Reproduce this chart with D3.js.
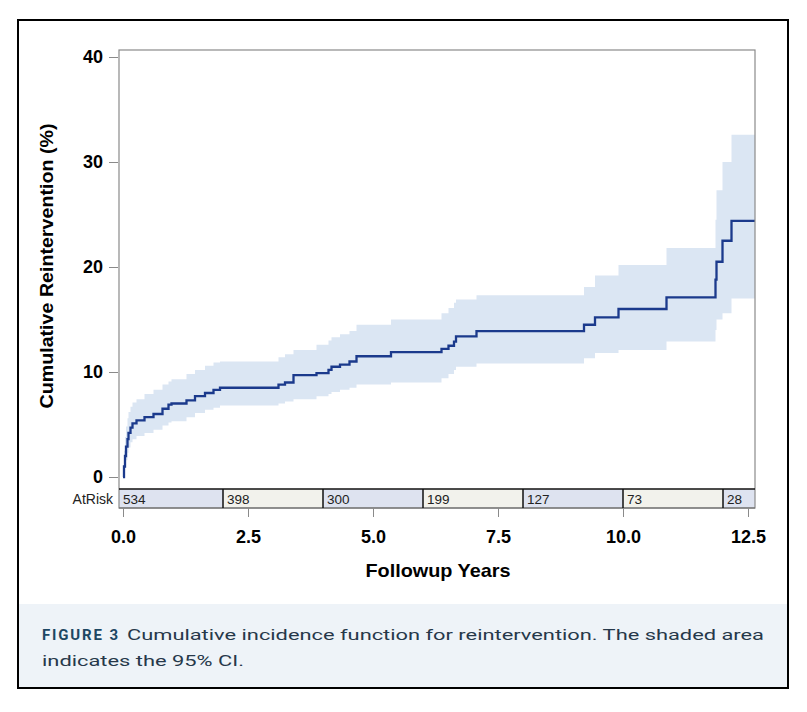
<!DOCTYPE html>
<html lang="en">
<head>
<meta charset="utf-8">
<title>Cumulative incidence of reintervention</title>
<script src="https://d3js.org/d3.v7.min.js"></script>
<style>
  body { margin: 0; background: #fff; }
  svg { display: block; }
  .axis text { font-family: "Liberation Sans", Arial, sans-serif; font-weight: bold; font-size: 18px; fill: #000; }
  .axis line { stroke: #8a8a8a; }
</style>
</head>
<body>
<svg id="chart" width="807" height="712"></svg>
<script>
// event times (years) with cumulative incidence and 95% CI (%)
var times = [0, 0.02, 0.04, 0.06, 0.09, 0.11, 0.15, 0.19, 0.27, 0.43, 0.61, 0.79, 0.91, 0.97,
             1.27, 1.44, 1.64, 1.81, 1.94, 3.11, 3.24, 3.41, 3.87, 4.11, 4.17, 4.34, 4.53, 4.67,
             5.36, 6.37, 6.51, 6.62, 6.66, 7.07, 9.22, 9.44, 9.91, 10.87, 11.85, 11.87, 11.99, 12.17, 12.64];
var cif   = [0, 1.0, 2.0, 2.9, 3.6, 4.2, 4.7, 5.1, 5.4, 5.7, 6.0, 6.5, 6.9, 7.0,
             7.3, 7.7, 8.0, 8.3, 8.5, 8.8, 9.0, 9.7, 9.9, 10.2, 10.5, 10.7, 11.0, 11.5,
             11.9, 12.2, 12.5, 12.9, 13.4, 13.9, 14.5, 15.2, 16.0, 17.1, 18.8, 20.5, 22.5, 24.4, 24.4];
var lower = [0, 0.2, 0.9, 1.6, 2.3, 2.8, 3.3, 3.6, 3.9, 4.2, 4.5, 4.9, 5.2, 5.3,
             5.7, 6.1, 6.4, 6.6, 6.8, 7.0, 7.2, 7.4, 7.7, 7.9, 8.1, 8.3, 8.5, 8.8,
             9.0, 9.4, 9.8, 10.2, 10.5, 10.8, 11.3, 11.8, 12.1, 12.9, 14.0, 15.0, 15.6, 17.0, 17.0];
var upper = [0, 2.5, 3.8, 4.8, 5.6, 6.2, 6.7, 7.1, 7.4, 7.9, 8.3, 8.8, 9.1, 9.3,
             9.8, 10.2, 10.6, 10.9, 11.0, 11.4, 11.7, 12.1, 12.6, 13.0, 13.3, 13.6, 13.9, 14.5,
             15.0, 15.6, 16.1, 16.6, 16.9, 17.3, 18.1, 19.2, 20.2, 21.8, 24.5, 27.3, 30.0, 32.6, 32.6];

// number at risk table
var riskTimes  = [0, 2, 4, 6, 8, 10, 12];
var riskCounts = [534, 398, 300, 199, 127, 73, 28];

var xTicks = [0, 2.5, 5, 7.5, 10, 12.5];
var yTicks = [0, 10, 20, 30, 40];

var svg = d3.select("#chart");

// plot box (note: "top" is reserved on window, so use plotTop)
var plotLeft = 119, plotRight = 755, plotTop = 50, plotBottom = 508;
var tableTop = 489;

var x = d3.scaleLinear().domain([0, 12.5]).range([123, 748]);
var y = d3.scaleLinear().domain([0, 40]).range([477, 57]);

var data = times.map(function(t, i) {
  return { t: t, v: cif[i], lo: lower[i], hi: upper[i] };
});

// outer frame + caption band
svg.append("rect")
  .attr("x", 19).attr("y", 604).attr("width", 768).attr("height", 83)
  .attr("fill", "#eef3f8");
svg.append("rect")
  .attr("x", 18).attr("y", 20).attr("width", 770).attr("height", 668)
  .attr("fill", "none").attr("stroke", "#000").attr("stroke-width", 2);

// confidence band
var area = d3.area()
  .curve(d3.curveStepAfter)
  .x(function(d) { return x(d.t); })
  .y0(function(d) { return y(d.lo); })
  .y1(function(d) { return y(d.hi); });

svg.append("path")
  .datum(data)
  .attr("d", area)
  .attr("fill", "#dbe6f3");

// CIF step line
var line = d3.line()
  .curve(d3.curveStepAfter)
  .x(function(d) { return x(d.t); })
  .y(function(d) { return y(d.v); });

svg.append("path")
  .datum(data)
  .attr("d", line)
  .attr("fill", "none")
  .attr("stroke", "#1b3a8c")
  .attr("stroke-width", 2.3);

// at risk row
var cells = riskTimes.map(function(t, i) {
  var x0 = i === 0 ? plotLeft : x(t);
  var x1 = i < riskTimes.length - 1 ? x(riskTimes[i + 1]) : plotRight;
  return { x0: x0, x1: x1, n: riskCounts[i], i: i };
});

svg.selectAll("rect.cell")
  .data(cells)
  .enter()
  .append("rect")
  .attr("class", "cell")
  .attr("x", function(d) { return d.x0; })
  .attr("y", tableTop)
  .attr("width", function(d) { return d.x1 - d.x0; })
  .attr("height", plotBottom - tableTop)
  .attr("fill", function(d) { return d.i % 2 === 0 ? "#dee3f0" : "#f2f2ec"; });

// plot frame
svg.append("rect")
  .attr("x", plotLeft).attr("y", plotTop)
  .attr("width", plotRight - plotLeft).attr("height", plotBottom - plotTop)
  .attr("fill", "none").attr("stroke", "#8a8a8a").attr("stroke-width", 1.2);

svg.append("line")
  .attr("x1", plotLeft).attr("x2", plotRight).attr("y1", tableTop).attr("y2", tableTop)
  .attr("stroke", "#111").attr("stroke-width", 1.5);
svg.append("line")
  .attr("x1", plotLeft).attr("x2", plotRight).attr("y1", plotBottom).attr("y2", plotBottom)
  .attr("stroke", "#666").attr("stroke-width", 1.2);

svg.selectAll("line.divider")
  .data(cells.slice(1))
  .enter()
  .append("line")
  .attr("class", "divider")
  .attr("x1", function(d) { return d.x0; })
  .attr("x2", function(d) { return d.x0; })
  .attr("y1", tableTop)
  .attr("y2", plotBottom)
  .attr("stroke", "#111")
  .attr("stroke-width", 1.5);

svg.selectAll("text.count")
  .data(cells)
  .enter()
  .append("text")
  .attr("class", "count")
  .attr("x", function(d) { return d.x0 + 4; })
  .attr("y", plotBottom - 4)
  .attr("font-family", "Liberation Sans, Arial, sans-serif")
  .attr("font-size", "13.5px")
  .attr("fill", "#222")
  .text(function(d) { return d.n; });

svg.append("text")
  .attr("x", 113).attr("y", plotBottom - 4)
  .attr("text-anchor", "end")
  .attr("font-family", "Liberation Sans, Arial, sans-serif")
  .attr("font-size", "14px")
  .attr("fill", "#222")
  .text("AtRisk");

// axes
var yAxis = d3.axisLeft(y).tickValues(yTicks).tickSize(9).tickPadding(6)
  .tickFormat(d3.format("d"));
svg.append("g")
  .attr("class", "axis")
  .attr("transform", "translate(" + (plotLeft - 1) + ",0)")
  .call(yAxis)
  .call(function(g) { g.select(".domain").remove(); });

var xAxis = d3.axisBottom(x).tickValues(xTicks).tickSize(9).tickPadding(13)
  .tickFormat(d3.format(".1f"));
svg.append("g")
  .attr("class", "axis")
  .attr("transform", "translate(0," + plotBottom + ")")
  .call(xAxis)
  .call(function(g) { g.select(".domain").remove(); });

// axis titles
svg.append("text")
  .attr("x", 438).attr("y", 577)
  .attr("text-anchor", "middle")
  .attr("font-family", "Liberation Sans, Arial, sans-serif")
  .attr("font-weight", "bold")
  .attr("font-size", "19px")
  .attr("textLength", 145).attr("lengthAdjust", "spacingAndGlyphs")
  .text("Followup Years");

svg.append("text")
  .attr("transform", "translate(53,266) rotate(-90)")
  .attr("text-anchor", "middle")
  .attr("font-family", "Liberation Sans, Arial, sans-serif")
  .attr("font-weight", "bold")
  .attr("font-size", "18px")
  .attr("textLength", 285).attr("lengthAdjust", "spacingAndGlyphs")
  .text("Cumulative Reintervention (%)");

// caption
svg.append("text")
  .attr("x", 42).attr("y", 640)
  .attr("font-family", "Roboto, sans-serif")
  .attr("font-weight", "bold")
  .attr("font-size", "15px")
  .attr("fill", "#1d4763")
  .attr("textLength", 76).attr("lengthAdjust", "spacing")
  .text("FIGURE 3");
svg.append("text")
  .attr("x", 127).attr("y", 640)
  .attr("font-family", "Roboto, sans-serif")
  .attr("font-size", "15px")
  .attr("fill", "#26384a")
  .attr("textLength", 637).attr("lengthAdjust", "spacingAndGlyphs")
  .text("Cumulative incidence function for reintervention. The shaded area");
svg.append("text")
  .attr("x", 42).attr("y", 666)
  .attr("font-family", "Roboto, sans-serif")
  .attr("font-size", "15px")
  .attr("fill", "#26384a")
  .attr("textLength", 202).attr("lengthAdjust", "spacingAndGlyphs")
  .text("indicates the 95% CI.");
</script>
</body>
</html>
